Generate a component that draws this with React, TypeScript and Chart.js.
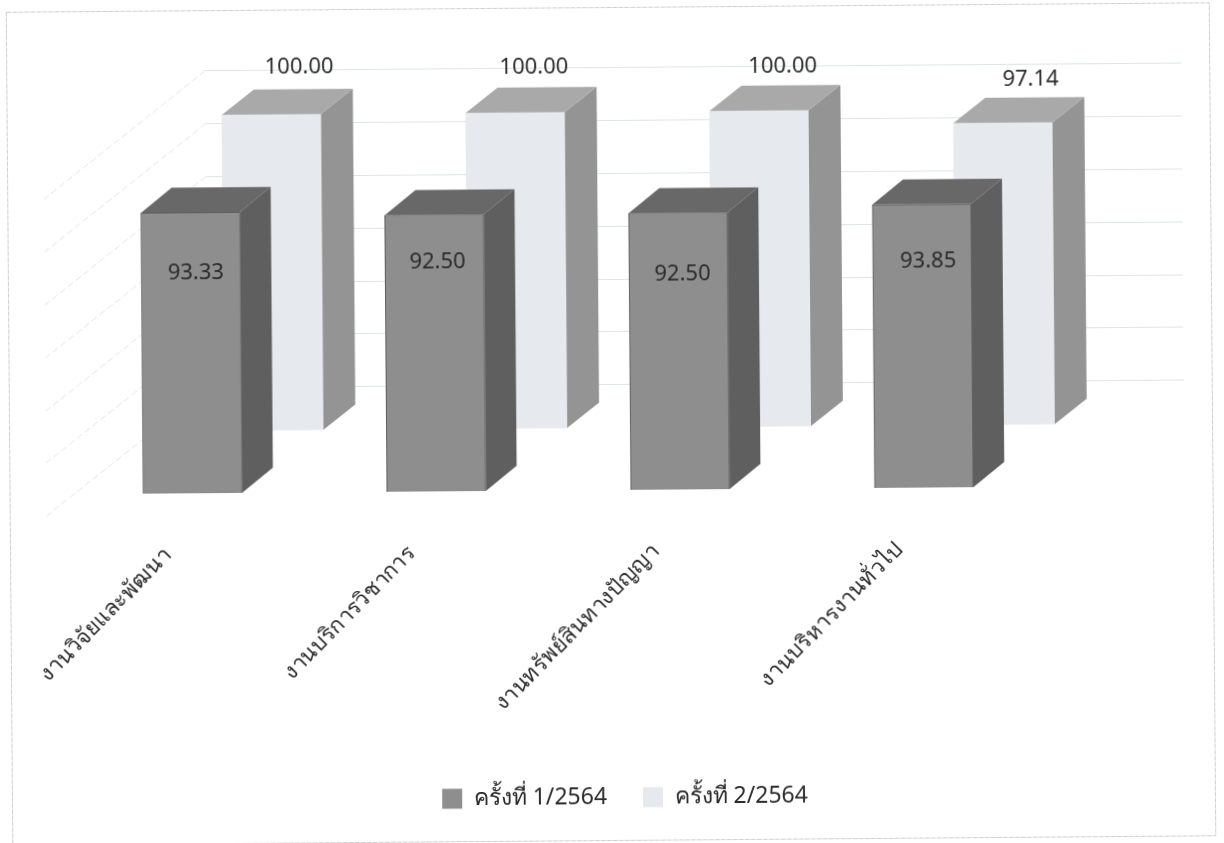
import React, { useEffect, useRef } from "react";
import { Chart, registerables } from "chart.js";

Chart.register(...registerables);

const categories = ["งานวิจัยและพัฒนา", "งานบริการวิชาการ", "งานทรัพย์สินทางปัญญา", "งานบริหารงานทั่วไป"];
const round1Name = "ครั้งที่ 1/2564";
const round2Name = "ครั้งที่ 2/2564";
const round1Values = [93.33, 92.5, 92.5, 93.85];
const round2Values = [100, 100, 100, 97.14];
const wallTicks = [40, 50, 60, 70, 80, 90, 100];

// label nudges relative to the bar they belong to
const round1LabelDrop = [60, 47, 61, 57];
const round1LabelShift = [5, 3, 4, 6];
const round2LabelRise = [47, 45, 44, 43];
const round2LabelShift = [28, 19, 24, 28];

const FONT = '"Noto Sans", "DejaVu Sans", sans-serif';
const TEXT = "#2b2b2b";

const W = 1224;
const H = 843;

const threeD = {
  id: "threeD",
  beforeDraw(chart: any) {
    const { ctx } = chart;
    ctx.save();
    ctx.strokeStyle = "#cfcfcf";
    ctx.lineWidth = 1;
    ctx.setLineDash([5, 1]);
    ctx.strokeRect(9.5, 7.5, 1203, 833);
    ctx.restore();
  },
  beforeDatasetsDraw(chart: any) {
    const { ctx } = chart;
    const wall = chart.scales.y3;
    ctx.save();
    ctx.lineWidth = 1;
    wallTicks.forEach((t) => {
      const y = Math.round(wall.getPixelForValue(t)) + 0.5;
      ctx.strokeStyle = "#dde5e6";
      ctx.setLineDash([]);
      ctx.beginPath();
      ctx.moveTo(208, y);
      ctx.lineTo(1184, y);
      ctx.stroke();
      ctx.strokeStyle = "#e2e6e6";
      ctx.setLineDash([7, 3]);
      ctx.beginPath();
      ctx.moveTo(208, y);
      ctx.lineTo(46, y + 127);
      ctx.stroke();
    });
    ctx.restore();
  },
  afterDatasetDraw(chart: any, args: any) {
    const { ctx } = chart;
    const ds = chart.data.datasets[args.index];
    const { depthX: dx, depthY: dy, sideColor, topColor } = ds;
    ctx.save();
    args.meta.data.forEach((el: any) => {
      const { x, y, base, width } = el.getProps(["x", "y", "base", "width"], true);
      const l = x - width / 2;
      const r = x + width / 2;
      ctx.fillStyle = sideColor;
      ctx.beginPath();
      ctx.moveTo(r, y);
      ctx.lineTo(r + dx, y - dy);
      ctx.lineTo(r + dx, base - dy);
      ctx.lineTo(r, base);
      ctx.closePath();
      ctx.fill();
      ctx.fillStyle = topColor;
      ctx.beginPath();
      ctx.moveTo(l, y);
      ctx.lineTo(l + dx, y - dy);
      ctx.lineTo(r + dx, y - dy);
      ctx.lineTo(r, y);
      ctx.closePath();
      ctx.fill();
    });
    ctx.restore();
  },
  afterDraw(chart: any) {
    const { ctx } = chart;
    ctx.save();
    ctx.font = `22px ${FONT}`;
    ctx.fillStyle = TEXT;
    ctx.textAlign = "center";
    ctx.textBaseline = "middle";
    chart.getDatasetMeta(1).data.forEach((el: any, i: number) => {
      ctx.fillText(round2Values[i].toFixed(2), el.x + round2LabelShift[i], el.y - round2LabelRise[i]);
    });
    chart.getDatasetMeta(0).data.forEach((el: any, i: number) => {
      ctx.fillText(round1Values[i].toFixed(2), el.x + round1LabelShift[i], el.y + round1LabelDrop[i]);
    });
    ctx.restore();
  },
};

export default function App() {
  const ref = useRef<HTMLCanvasElement>(null);
  useEffect(() => {
    const chart = new Chart(ref.current!, {
      type: "bar",
      plugins: [threeD],
      data: {
        labels: categories,
        datasets: [
          {
            label: round1Name,
            data: round1Values,
            base: 36.56,
            xAxisID: "x",
            yAxisID: "y",
            backgroundColor: "#8e8e8e",
            borderColor: "#5c5c5c",
            borderWidth: 1,
            barThickness: 99,
            grouped: false,
            clip: false,
            depthX: 31,
            depthY: 25,
            sideColor: "#5f5f5f",
            topColor: "#686868",
          } as any,
          {
            label: round2Name,
            data: round2Values.map((v, i) => ({ x: i, y: v })),
            base: 35.5,
            xAxisID: "x2",
            yAxisID: "y2",
            backgroundColor: "#e6e9ee",
            borderWidth: 0,
            barThickness: 99,
            grouped: false,
            clip: false,
            depthX: 32,
            depthY: 25,
            sideColor: "#949494",
            topColor: "#a9a9a9",
          } as any,
        ],
      },
      options: {
        responsive: false,
        animation: false,
        layout: { padding: { left: 70.1, right: 50, top: 40, bottom: 24 } },
        scales: {
          x: {
            type: "category",
            offset: true,
            position: "bottom",
            grid: { display: false },
            border: { display: false },
            ticks: {
              autoSkip: false,
              minRotation: 45,
              maxRotation: 45,
              padding: 41,
              labelOffset: -25,
              color: TEXT,
              font: { family: FONT, size: 22 },
            },
            afterFit(s: any) {
              s.height = 260;
              s.paddingLeft = 0;
              s.paddingRight = 0;
            },
          },
          x2: {
            type: "linear",
            display: false,
            offset: false,
            grid: { offset: false },
            min: -0.836,
            max: 3.164,
          },
          y: { type: "linear", display: false, min: 36.56, max: 127.59 },
          y2: { type: "linear", display: false, min: 22.72, max: 114.68 },
          y3: {
            type: "linear",
            position: "right",
            min: 19.92,
            max: 105.2,
            grid: { display: false },
            border: { display: false },
            ticks: { display: false },
            afterFit(s: any) {
              s.width = 128.7;
            },
          },
        },
        plugins: {
          tooltip: { enabled: false },
          legend: {
            position: "bottom",
            labels: {
              boxWidth: 20,
              boxHeight: 20,
              padding: 36,
              color: TEXT,
              font: { family: FONT, size: 23 },
              generateLabels(c: any) {
                return Chart.defaults.plugins.legend.labels
                  .generateLabels(c)
                  .map((it: any) => ({ ...it, lineWidth: 0 }));
              },
            },
          },
        },
      } as any,
    });
    return () => chart.destroy();
  }, []);
  return (
    <div style={{ position: "absolute", left: 0, top: 0, width: W, height: H, overflow: "hidden", background: "#fff" }}>
      <canvas
        ref={ref}
        width={W}
        height={H}
        style={{ display: "block", width: W, height: H, transform: "rotate(-0.45deg)", filter: "blur(0.35px)" }}
      />
    </div>
  );
}
